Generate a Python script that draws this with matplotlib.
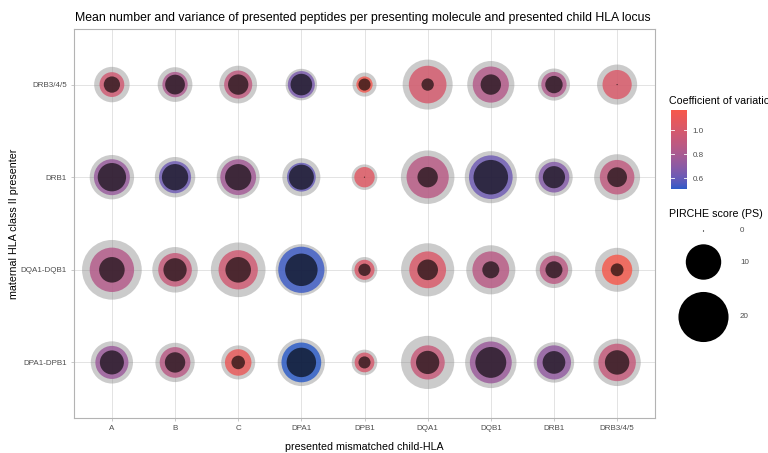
import numpy as np
import matplotlib
matplotlib.use("Agg")
import matplotlib.pyplot as plt
from matplotlib.colors import ListedColormap, Normalize

plt.rcParams["font.family"] = ["Liberation Sans", "DejaVu Sans"]

# presented mismatched child-HLA loci (x) and maternal presenters (y, bottom to top)
child_loci = ["A", "B", "C", "DPA1", "DPB1", "DQA1", "DQB1", "DRB1", "DRB3/4/5"]
presenters = ["DPA1-DPB1", "DQA1-DQB1", "DRB1", "DRB3/4/5"]

# PIRCHE score, upper band (grey), mean (coloured) and lower band (dark)
ps_upper = [
    [14.2, 12.3, 9.2, 17.8, 5.2, 22.5, 21.0, 13.0, 17.8],
    [28.4, 16.5, 23.8, 21.0, 5.2, 22.5, 19.2, 10.6, 15.4],
    [15.7, 13.0, 14.7, 11.5, 5.2, 22.8, 21.6, 11.2, 16.8],
    [10.0, 9.6, 11.3, 7.9, 4.6, 19.9, 17.7, 8.2, 12.8],
]
ps_mean = [
    [8.7, 7.5, 5.6, 12.6, 3.1, 9.3, 14.0, 9.3, 11.2],
    [15.7, 9.0, 12.3, 17.0, 3.2, 10.8, 10.8, 6.4, 7.3],
    [10.3, 8.2, 10.2, 6.6, 3.3, 14.2, 15.2, 7.5, 9.5],
    [4.9, 5.1, 6.3, 5.8, 2.1, 11.3, 10.4, 5.1, 6.8],
]
ps_lower = [
    [4.6, 3.3, 1.45, 6.9, 1.15, 4.3, 7.6, 4.1, 4.75],
    [5.2, 4.3, 5.2, 8.4, 1.2, 3.4, 2.3, 2.3, 1.3],
    [6.4, 5.5, 5.5, 5.0, 0.0, 3.3, 9.5, 3.9, 3.1],
    [2.1, 3.1, 3.3, 3.7, 1.15, 1.2, 3.3, 2.4, 0.0],
]
cv = [
    [0.75, 0.87, 1.10, 0.51, 1.00, 0.93, 0.75, 0.72, 0.92],
    [0.85, 0.93, 0.97, 0.53, 1.02, 1.02, 0.87, 0.88, 1.17],
    [0.74, 0.62, 0.78, 0.60, 1.05, 0.87, 0.62, 0.68, 0.90],
    [0.97, 0.82, 0.90, 0.65, 1.15, 1.00, 0.85, 0.83, 1.02],
]
size_breaks = [0, 10, 20]
cv_breaks = [0.6, 0.8, 1.0]

# ---- colour gradient interpolated in CIELAB -------------------------------
def _srgb_to_lab(rgb):
    rgb = np.asarray(rgb, float)
    lin = np.where(rgb <= 0.04045, rgb / 12.92, ((rgb + 0.055) / 1.055) ** 2.4)
    m = np.array([[0.4124, 0.3576, 0.1805],
                  [0.2126, 0.7152, 0.0722],
                  [0.0193, 0.1192, 0.9505]])
    xyz = m @ lin / np.array([0.95047, 1.0, 1.08883])
    f = np.where(xyz > 0.008856, np.cbrt(xyz), 7.787 * xyz + 16 / 116)
    return np.array([116 * f[1] - 16, 500 * (f[0] - f[1]), 200 * (f[1] - f[2])])


def _lab_to_srgb(lab):
    L, a, b = lab
    fy = (L + 16) / 116
    fx = fy + a / 500
    fz = fy - b / 200
    f = np.array([fx, fy, fz])
    xyz = np.where(f ** 3 > 0.008856, f ** 3, (f - 16 / 116) / 7.787)
    xyz = xyz * np.array([0.95047, 1.0, 1.08883])
    m = np.array([[3.2406, -1.5372, -0.4986],
                  [-0.9689, 1.8758, 0.0415],
                  [0.0557, -0.2040, 1.0570]])
    lin = m @ xyz
    rgb = np.where(lin <= 0.0031308, 12.92 * lin, 1.055 * np.clip(lin, 0, None) ** (1 / 2.4) - 0.055)
    return np.clip(rgb, 0, 1)


def lab_gradient(low, high, n=256):
    lo = _srgb_to_lab(matplotlib.colors.to_rgb(low))
    hi = _srgb_to_lab(matplotlib.colors.to_rgb(high))
    return ListedColormap([_lab_to_srgb(lo + (hi - lo) * t) for t in np.linspace(0, 1, n)])


cmap = lab_gradient("#2A5BC8", "#F7584B")
cv_arr = np.array(cv)
norm = Normalize(vmin=cv_arr.min(), vmax=cv_arr.max())

# marker area proportional to the PIRCHE score
def marker_area(v):
    return 65.0 * np.asarray(v, float) + 0.8


W, H = 768, 453
fig = plt.figure(figsize=(W / 100, H / 100), dpi=100)
ax = fig.add_axes([74 / W, 1 - 418 / H, (655 - 74) / W, (418 - 29) / H])

xx, yy = np.meshgrid(np.arange(len(child_loci)), np.arange(len(presenters)))
xx, yy = xx.ravel(), yy.ravel()

ax.scatter(xx, yy, s=marker_area(np.ravel(ps_upper)), color="#7f7f7f", alpha=0.4,
           linewidths=0, zorder=3)
ax.scatter(xx, yy, s=marker_area(np.ravel(ps_mean)), c=cv_arr.ravel(), cmap=cmap,
           norm=norm, alpha=0.82, linewidths=0, zorder=4)
ax.scatter(xx, yy, s=marker_area(np.ravel(ps_lower)), color="black", alpha=0.63,
           linewidths=0, zorder=5)

ax.set_xlim(-0.6, len(child_loci) - 0.4)
ax.set_ylim(-0.6, len(presenters) - 0.4)
ax.set_xticks(range(len(child_loci)))
ax.set_xticklabels(child_loci)
ax.set_yticks(range(len(presenters)))
ax.set_yticklabels(presenters)
ax.grid(True, color="#dedede", linewidth=0.6, zorder=0)
ax.set_axisbelow(True)
for sp in ax.spines.values():
    sp.set_color("#b3b3b3")
    sp.set_linewidth(0.8)
ax.tick_params(axis="both", colors="#b3b3b3", labelcolor="#4d4d4d", labelsize=5.8,
               length=2.5, width=0.5, pad=2.5)
ax.set_xlabel("presented mismatched child-HLA", fontsize=7.7, color="black", labelpad=7)
ax.set_ylabel("maternal HLA class II presenter", fontsize=7.7, color="black", labelpad=1.5)
fig.text(75 / W, 1 - 18 / H, "Mean number and variance of presented peptides per presenting "
         "molecule and presented child HLA locus", fontsize=8.8, ha="left", va="center")

# ---- colour bar -----------------------------------------------------------
cax = fig.add_axes([671 / W, 1 - 189 / H, 16 / W, 79 / H])
grad = np.linspace(norm.vmin, norm.vmax, 256).reshape(-1, 1)
cax.imshow(grad, aspect="auto", cmap=cmap, norm=norm, origin="lower",
           extent=[0, 1, norm.vmin, norm.vmax])
cax.set_xlim(0, 1)
cax.set_ylim(norm.vmin, norm.vmax)
for b in cv_breaks:
    cax.plot([0, 0.2], [b, b], color="white", lw=0.6)
    cax.plot([0.8, 1], [b, b], color="white", lw=0.6)
cax.set_xticks([])
cax.yaxis.tick_right()
cax.set_yticks(cv_breaks)
cax.set_yticklabels([f"{b:.1f}" for b in cv_breaks])
cax.tick_params(axis="y", length=0, labelsize=5.8, labelcolor="#4d4d4d", pad=4)
for sp in cax.spines.values():
    sp.set_visible(False)
fig.text(669 / W, 1 - 101 / H, "Coefficient of variation", fontsize=7.7, ha="left",
         va="center")

# ---- size legend ----------------------------------------------------------
lax = fig.add_axes([0, 0, 1, 1], zorder=10)
lax.set_xlim(0, W)
lax.set_ylim(H, 0)
lax.axis("off")
fig.text(669 / W, 1 - 214 / H, "PIRCHE score (PS)", fontsize=7.7, ha="left", va="center")
key_y = [231, 262, 317]
lax.scatter([703.5] * len(size_breaks), key_y, s=marker_area(size_breaks), color="black",
            linewidths=0)
for v, y in zip(size_breaks, key_y):
    lax.text(740, y, str(v), fontsize=5.8, color="#4d4d4d", ha="left", va="center")

fig.savefig("out.png", dpi=100)
